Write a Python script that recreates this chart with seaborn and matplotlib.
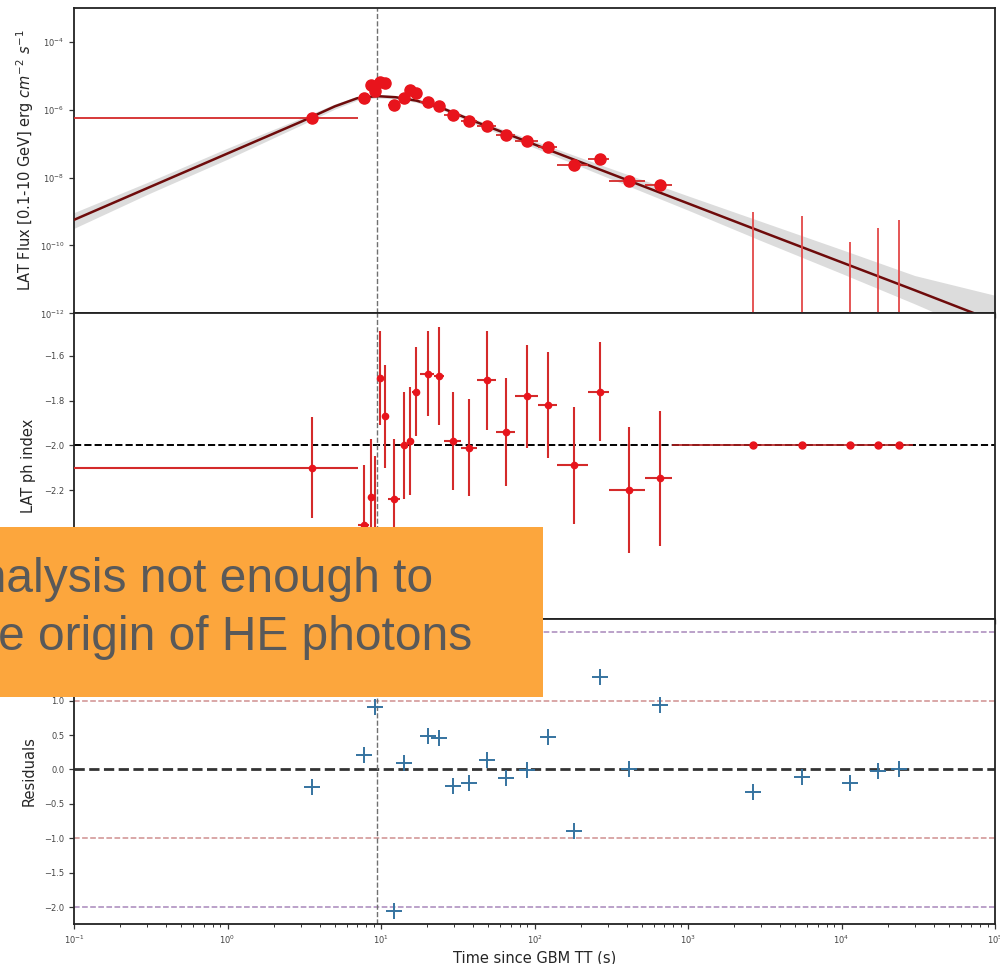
import matplotlib
matplotlib.use("Agg")
import numpy as np
import pandas as pd
import matplotlib.pyplot as plt
import seaborn as sns
from matplotlib import ticker
from matplotlib.patches import Rectangle

# ---------------- data ----------------
# contiguous time bins (s since GBM trigger) of the LAT light curve
bin_edges = [0.0, 7.08, 8.32, 8.9, 9.5, 10.3, 11.05, 13.3, 15.05, 15.95, 18.05,
             22.3, 25.7, 33.1, 42.2, 56.5, 74.5, 104.7, 139.3, 224.5, 306.0,
             521.0, 785.0]
flux = [5.8e-7, 2.3e-6, 5.4e-6, 3.5e-6, 6.8e-6, 6.1e-6, 1.37e-6, 2.15e-6,
        3.9e-6, 3.1e-6, 1.64e-6, 1.25e-6, 7.0e-7, 4.8e-7, 3.25e-7, 1.84e-7,
        1.17e-7, 8.2e-8, 2.36e-8, 3.55e-8, 8.1e-9, 6.1e-9]
flux_err = [1.0e-7, 3.5e-7, 9.0e-7, 6.0e-7, 1.1e-6, 1.0e-6, 2.5e-7, 3.5e-7,
            6.0e-7, 5.0e-7, 2.6e-7, 2.0e-7, 1.1e-7, 7.5e-8, 5.0e-8, 3.0e-8,
            1.9e-8, 1.3e-8, 4.0e-9, 6.0e-9, 1.4e-9, 1.1e-9]
index = [-2.10, -2.356, -2.23, -2.50, -1.70, -1.87, -2.24, -2.00, -1.98, -1.76,
         -1.68, -1.69, -1.98, -2.01, -1.71, -1.94, -1.78, -1.82, -2.09, -1.76,
         -2.20, -2.148]
index_err = [0.225, 0.27, 0.26, 0.45, 0.21, 0.23, 0.27, 0.24, 0.24, 0.20, 0.19,
             0.22, 0.22, 0.215, 0.22, 0.24, 0.23, 0.235, 0.26, 0.22, 0.28, 0.30]
residual = [-0.25, 0.204, np.nan, 0.91, np.nan, np.nan, -2.05, 0.10, np.nan,
            np.nan, 0.485, 0.45, -0.24, -0.195, 0.135, -0.12, -0.01, 0.47,
            -0.90, 1.34, 0.0, 0.93]

# late bins with flux upper limits (index frozen)
ul_edges = [785.0, 4513.0, 6497.0, 16163.0, 18597.0, 29083.0]
ul_flux = [9.5e-10, 7.6e-10, 1.25e-10, 3.3e-10, 5.7e-10]
ul_index = [-2.0, -2.0, -2.0, -2.0, -2.0]
ul_residual = [-0.33, -0.107, -0.195, -0.025, 0.0]

# fitted light-curve model with its uncertainty band
model_t = [0.1, 0.3, 1.0, 3.0, 5.0, 7.0, 9.35, 12.5, 17.0, 25.0, 40.0, 100.0,
           300.0, 1000.0, 3000.0, 1.0e4, 3.0e4, 1.0e5]
model_flux = [5.7e-10, 4.9e-9, 5.15e-8, 4.4e-7, 1.26e-6, 2.19e-6, 2.53e-6,
              2.34e-6, 1.86e-6, 1.12e-6, 4.7e-7, 9.5e-8, 1.41e-8, 1.74e-9,
              2.57e-10, 3.2e-11, 4.8e-12, 5.8e-13]
model_lo = [3.2e-10, 3.2e-9, 3.5e-8, 3.5e-7, 1.05e-6, 1.9e-6, 2.24e-6, 2.09e-6,
            1.66e-6, 9.8e-7, 4.0e-7, 7.6e-8, 1.0e-8, 1.1e-9, 1.38e-10, 1.5e-11,
            1.9e-12, 1.8e-13]
model_hi = [9.3e-10, 7.2e-9, 7.4e-8, 5.6e-7, 1.48e-6, 2.5e-6, 2.82e-6, 2.63e-6,
            2.09e-6, 1.29e-6, 5.5e-7, 1.2e-7, 2.0e-8, 2.9e-9, 5.1e-10, 7.6e-11,
            1.3e-11, 3.4e-12]
t_peak = 9.35

# ---------------- derived tables ----------------
edges = np.array(bin_edges)
t_mid = 0.5 * (edges[:-1] + edges[1:])
t_err = [t_mid - edges[:-1], edges[1:] - t_mid]
lc = pd.DataFrame({"t": t_mid, "flux": flux, "flux_err": flux_err,
                   "index": index, "index_err": index_err, "resid": residual})

uedges = np.array(ul_edges)
ul_mid = 0.5 * (uedges[:-1] + uedges[1:])
ul_terr = [ul_mid - uedges[:-1], uedges[1:] - ul_mid]
ul = pd.DataFrame({"t": ul_mid, "flux": ul_flux, "index": ul_index,
                   "resid": ul_residual})

model = pd.DataFrame({"t": model_t, "flux": model_flux,
                      "lo": model_lo, "hi": model_hi})
res_all = pd.concat([lc[["t", "resid"]], ul[["t", "resid"]]]).dropna()

# ---------------- figure ----------------
sns.set_theme(style="ticks")
plt.rcParams["font.family"] = ["DejaVu Sans"]
plt.rcParams["axes.edgecolor"] = "#222222"
plt.rcParams["axes.linewidth"] = 1.3
plt.rcParams["axes.unicode_minus"] = True

fig = plt.figure(figsize=(10, 9.64), dpi=100)
gs = fig.add_gridspec(3, 1, left=0.074, right=0.995, top=0.9917,
                      bottom=0.0415, hspace=0.0)
ax1 = fig.add_subplot(gs[0])
ax2 = fig.add_subplot(gs[1], sharex=ax1)
ax3 = fig.add_subplot(gs[2], sharex=ax1)

red = "#e8141c"
bar_red = "#d42a2a"

# --- flux panel ---
ax1.set_xscale("log")
ax1.set_yscale("log")
ax1.fill_between(model["t"], model["lo"], model["hi"], color="#d6d6d6",
                 alpha=0.85, linewidth=0, zorder=1)
sns.lineplot(data=model, x="t", y="flux", ax=ax1, color="#6e0b0b",
             linewidth=1.8, zorder=3)
ax1.errorbar(lc["t"], lc["flux"], xerr=t_err, yerr=lc["flux_err"], fmt="o",
             ms=8, color=red, ecolor=bar_red, elinewidth=1.3, capsize=0,
             zorder=4)
ax1.set_ylim(1e-12, 1e-3)
ax1.vlines(ul["t"], ax1.get_ylim()[0], ul["flux"], color="#e34848",
           linewidth=1.3, zorder=4)
ax1.set_yticks([1e-12, 1e-10, 1e-8, 1e-6, 1e-4])
ax1.yaxis.set_minor_locator(ticker.NullLocator())
ax1.set_ylabel(r"LAT Flux [0.1-10 GeV] erg $cm^{-2}$ $s^{-1}$", fontsize=10.5)

# --- photon index panel ---
ax2.axhline(-2.0, color="black", linestyle="--", linewidth=1.4, zorder=2)
ax2.errorbar(lc["t"], lc["index"], xerr=t_err, yerr=lc["index_err"], fmt="o",
             ms=4.5, color=red, ecolor=bar_red, elinewidth=1.5, capsize=0,
             zorder=4)
ax2.errorbar(ul["t"], ul["index"], xerr=ul_terr, fmt="o", ms=5, color=red,
             ecolor="#b02020", elinewidth=1.2, capsize=0, zorder=4)
ax2.set_ylim(-2.775, -1.41)
ax2.set_yticks([-2.6, -2.4, -2.2, -2.0, -1.8, -1.6])
ax2.set_ylabel("LAT ph index", fontsize=10.5)

# --- residuals panel ---
for lvl, col in [(2.0, "#a888bb"), (-2.0, "#a888bb"),
                 (1.0, "#d09090"), (-1.0, "#d09090")]:
    ax3.axhline(lvl, color=col, linestyle="--", linewidth=1.1, zorder=1)
ax3.axhline(0.0, color="#333333", linestyle="--", linewidth=2.0, zorder=2)
sns.scatterplot(data=res_all, x="t", y="resid", ax=ax3, marker="+", s=140,
                color="#3573a0", linewidth=1.4, zorder=4)
ax3.set_ylim(-2.245, 2.19)
ax3.set_yticks([-2.0, -1.5, -1.0, -0.5, 0.0, 0.5, 1.0, 1.5, 2.0])
ax3.set_ylabel("Residuals", fontsize=10.5)
ax3.set_xlabel("Time since GBM TT (s)", fontsize=10.5, labelpad=3)

# shared x axis
ax1.set_xlim(0.1, 1e5)
ax3.xaxis.set_major_locator(ticker.LogLocator(base=10, numticks=10))
ax3.xaxis.set_minor_locator(ticker.LogLocator(base=10, subs=np.arange(2, 10),
                                              numticks=100))
for ax in (ax1, ax2, ax3):
    ax.axvline(t_peak, color="#707070", linestyle="--", linewidth=1.0, zorder=2)
    ax.tick_params(axis="both", which="major", labelsize=6, length=3.5,
                   width=0.9, colors="#333333", labelcolor="#444444")
    ax.tick_params(axis="both", which="minor", length=2, width=0.7,
                   colors="#333333")
    ax.yaxis.set_label_coords(-0.041, 0.5)
    for sp in ax.spines.values():
        sp.set_visible(True)
for ax in (ax1, ax2):
    ax.tick_params(axis="x", labelbottom=False)
    ax.set_xlabel("")

# slide call-out laid over the plot
fig.add_artist(Rectangle((0.0, 0.2770), 0.543, 0.1763,
                         transform=fig.transFigure, facecolor="#fca63d",
                         edgecolor="none", zorder=20))
fig.text(0.433, 0.3862, "analysis not enough to", ha="right", va="baseline",
         fontsize=34.5, color="#595959", family="Liberation Sans", zorder=21)
fig.text(0.472, 0.3262, "the origin of HE photons", ha="right",
         va="baseline", fontsize=34.5, color="#595959",
         family="Liberation Sans", zorder=21)

fig.savefig("out.png", dpi=100)
